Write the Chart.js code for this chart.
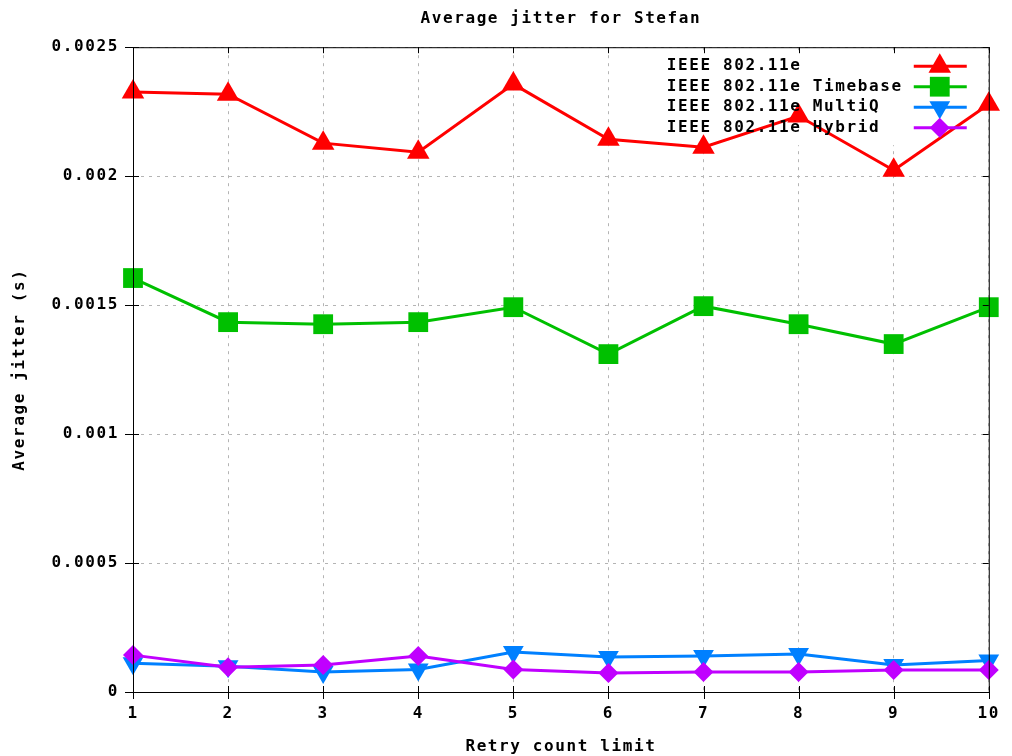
<!DOCTYPE html>
<html>
<head>
<meta charset="utf-8">
<script src="https://cdn.jsdelivr.net/npm/chart.js@4/dist/chart.umd.min.js"></script>
<style>
  html, body { margin: 0; background: #fff; }
  #wrap { width: 1012px; height: 756px; }
</style>
</head>
<body>
<div id="wrap"><canvas id="myChart"></canvas></div>
<script>
// retry count limit on the x axis
const retryLimits = ["1", "2", "3", "4", "5", "6", "7", "8", "9", "10"];

// average jitter (s)
const ieee80211e = [0.002326, 0.002318, 0.002128, 0.002093, 0.002357, 0.002143, 0.002112, 0.002233, 0.002023, 0.002279];
const timebase   = [0.001605, 0.001434, 0.001426, 0.001434, 0.001492, 0.00131, 0.001496, 0.001426, 0.001349, 0.001492];
const multiQ     = [0.000111, 0.0001, 0.0000776, 0.0000872, 0.000155, 0.000136, 0.00014, 0.000147, 0.000105, 0.000122];
const hybrid     = [0.000143, 0.0000957, 0.000105, 0.00014, 0.0000872, 0.0000736, 0.0000775, 0.0000775, 0.0000853, 0.0000853];

const yTickLabels = ["0", "0.0005", "0.001", "0.0015", "0.002", "0.0025"];

const FONT = "'DejaVu Sans Mono', monospace";
Chart.defaults.font.family = FONT;
Chart.defaults.font.size = 16;
Chart.defaults.font.weight = "bold";
Chart.defaults.color = "#000";

function spacing(chart) {
  chart.ctx.letterSpacing = "1.6px";
}

// gnuplot style: white key area, key on the right, full border and ticks
var gnuplotLook = {
  id: "gnuplotLook",
  beforeUpdate: spacing,
  beforeDraw: spacing,
  beforeDatasetsDraw(chart) {
    var a = chart.chartArea, ctx = chart.ctx;
    ctx.save();
    ctx.fillStyle = "#fff";
    ctx.fillRect(a.right - 330, a.top + 6, 326, 92);
    ctx.restore();
  },
  afterDatasetsDraw(chart) {
    var a = chart.chartArea, ctx = chart.ctx;
    ctx.save();
    // border
    ctx.strokeStyle = "#000";
    ctx.lineWidth = 1;
    ctx.strokeRect(a.left + 0.5, a.top + 0.5, a.right - a.left, a.bottom - a.top);
    // ticks
    var xs = chart.scales.x, ys = chart.scales.y;
    ctx.beginPath();
    xs.ticks.forEach(function (t, i) {
      var px = Math.round(xs.getPixelForTick(i)) + 0.5;
      ctx.moveTo(px, a.bottom + 7); ctx.lineTo(px, a.bottom - 6);
      ctx.moveTo(px, a.top); ctx.lineTo(px, a.top + 6);
    });
    ys.ticks.forEach(function (t) {
      var py = Math.round(ys.getPixelForValue(t.value)) + 0.5;
      ctx.moveTo(a.left - 8, py); ctx.lineTo(a.left + 6, py);
      ctx.moveTo(a.right, py); ctx.lineTo(a.right - 6, py);
    });
    ctx.stroke();

    // key
    ctx.font = "bold 16px " + FONT;
    ctx.textBaseline = "middle";
    ctx.textAlign = "left";
    chart.data.datasets.forEach(function (ds, i) {
      var y = a.top + 19 + i * 20.5;
      ctx.fillStyle = "#000";
      ctx.fillText(ds.label, a.right - 322, y);
      ctx.strokeStyle = ds.borderColor;
      ctx.lineWidth = ds.borderWidth;
      ctx.beginPath();
      ctx.moveTo(a.right - 75, y);
      ctx.lineTo(a.right - 22, y);
      ctx.stroke();
      ctx.fillStyle = ds.backgroundColor;
      Chart.helpers.drawPoint(ctx, {
        pointStyle: ds.pointStyle,
        radius: ds.pointRadius,
        rotation: ds.pointRotation || 0,
        borderWidth: 0
      }, a.right - 49, y);
    });
    ctx.restore();
  }
};

var ctx = document.getElementById("myChart");
var myChart = new Chart(ctx, {
  type: "line",
  data: {
    labels: retryLimits,
    datasets: [
      {
        label: "IEEE 802.11e",
        data: ieee80211e,
        borderColor: "#ff0000",
        backgroundColor: "#ff0000",
        pointStyle: "triangle",
        pointRadius: 13,
        order: 3
      },
      {
        label: "IEEE 802.11e Timebase",
        data: timebase,
        borderColor: "#00c000",
        backgroundColor: "#00c000",
        pointStyle: "rect",
        pointRadius: 14,
        order: 2
      },
      {
        label: "IEEE 802.11e MultiQ",
        data: multiQ,
        borderColor: "#0080ff",
        backgroundColor: "#0080ff",
        pointStyle: "triangle",
        pointRotation: 180,
        pointRadius: 12,
        order: 1
      },
      {
        label: "IEEE 802.11e Hybrid",
        data: hybrid,
        borderColor: "#c000ff",
        backgroundColor: "#c000ff",
        pointStyle: "rectRot",
        pointRadius: 10,
        order: 0
      }
    ].map(function (d) {
      return Object.assign({ borderWidth: 3, pointBorderWidth: 0, tension: 0, clip: false }, d);
    })
  },
  options: {
    responsive: true,
    maintainAspectRatio: false,
    animation: false,
    layout: { padding: { left: 0, right: 22, top: 0, bottom: 0 } },
    plugins: {
      legend: { display: false },
      tooltip: { enabled: false },
      title: {
        display: true,
        fullSize: false,
        text: "Average jitter for Stefan",
        font: { size: 16, weight: "bold" },
        color: "#000",
        padding: { top: 9, bottom: 19 }
      }
    },
    scales: {
      x: {
        offset: false,
        grid: { color: "#b4b4b4", drawTicks: false },
        border: { display: false, dash: [3, 5] },
        ticks: { padding: 12, maxRotation: 0, autoSkip: false },
        title: { display: true, text: "Retry count limit", padding: { top: 12, bottom: 0 } },
        afterFit: function (scale) { scale.height = 64; }
      },
      y: {
        min: 0,
        max: 0.0025,
        grid: { color: "#b4b4b4", drawTicks: false },
        border: { display: false, dash: [3, 5] },
        ticks: {
          stepSize: 0.0005,
          padding: 14,
          callback: function (v, i) { return yTickLabels[i]; }
        },
        title: { display: true, text: "Average jitter (s)", padding: { top: 10, bottom: 0 } },
        afterFit: function (scale) { scale.width = 133; }
      }
    }
  },
  plugins: [gnuplotLook]
});
</script>
</body>
</html>
